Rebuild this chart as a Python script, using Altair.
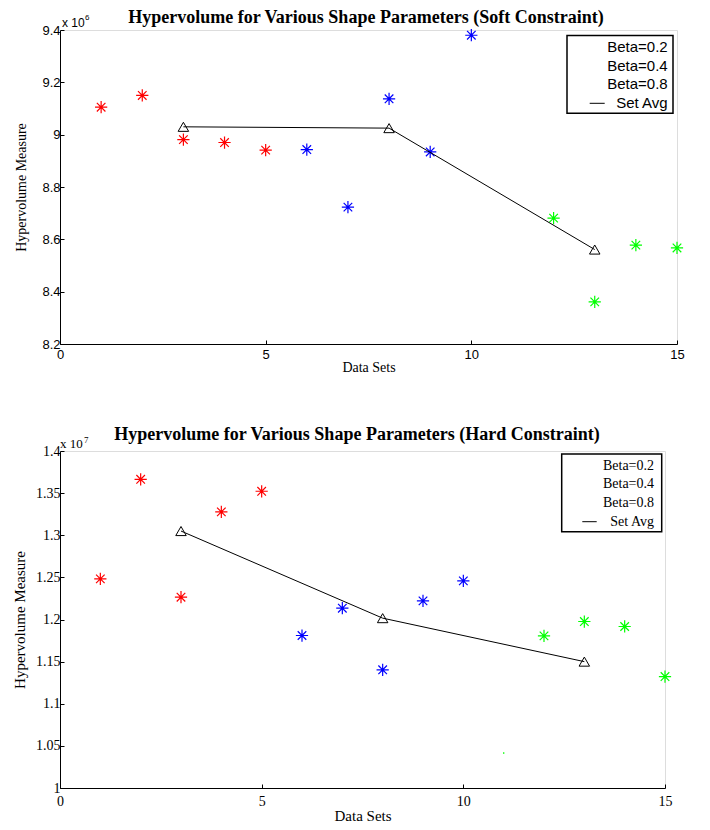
import altair as alt
import pandas as pd

# ---------------- data ----------------
soft_x = [1, 2, 3, 4, 5, 6, 7, 8, 9, 10, 12, 13, 14, 15]
soft_y = [9.105e6, 9.150e6, 8.981e6, 8.970e6, 8.941e6,
          8.943e6, 8.723e6, 9.137e6, 8.934e6, 9.380e6,
          8.681e6, 8.361e6, 8.578e6, 8.567e6]
soft_group = ["Beta=0.2"] * 5 + ["Beta=0.4"] * 5 + ["Beta=0.8"] * 4
soft_avg_x = [3, 8, 13]
soft_avg_y = [9.030e6, 9.025e6, 8.561e6]

hard_x = [1, 2, 3, 4, 5, 6, 7, 8, 9, 10, 11, 12, 13, 14, 15]
hard_y = [1.2482e7, 1.3664e7, 1.2265e7, 1.3277e7, 1.3522e7,
          1.1810e7, 1.2134e7, 1.1403e7, 1.2221e7, 1.2458e7,
          1.0415e7, 1.1806e7, 1.1976e7, 1.1917e7, 1.1323e7]
hard_group = ["Beta=0.2"] * 5 + ["Beta=0.4"] * 5 + ["Beta=0.8"] * 5
hard_dot_only = [11]          # point drawn only as a tiny dot in the original
hard_avg_x = [3, 8, 13]
hard_avg_y = [1.3050e7, 1.2016e7, 1.1500e7]

groups = ["Beta=0.2", "Beta=0.4", "Beta=0.8"]
group_colors = ["#ff0000", "#0000ff", "#00ff00"]
legend_labels = ["Beta=0.2", "Beta=0.4", "Beta=0.8", "Set Avg"]

x_ticks = [0, 5, 10, 15]
soft_y_ticks = [8.2e6, 8.4e6, 8.6e6, 8.8e6, 9.0e6, 9.2e6, 9.4e6]
hard_y_ticks = [1.0e7, 1.05e7, 1.1e7, 1.15e7, 1.2e7, 1.25e7, 1.3e7, 1.35e7, 1.4e7]

soft_title = "Hypervolume for Various Shape Parameters (Soft Constraint)"
hard_title = "Hypervolume for Various Shape Parameters (Hard Constraint)"

STAR = "M-1,0L1,0M0,-1L0,1M-0.7,-0.7L0.7,0.7M-0.7,0.7L0.7,-0.7"
SERIF = "Liberation Serif"
SANS = "Liberation Sans"


def panel(xs, ys, grp, ax, ay, yticks, ydomain, scale_div, exponent, title,
          w, h, label_font, label_size, title_size, st, dot_only=()):
    pts = pd.DataFrame({"x": xs, "y": ys, "g": grp})
    avg = pd.DataFrame({"x": ax, "y": ay})

    xenc = alt.X("x:Q", scale=alt.Scale(domain=[0, 15], nice=False, zero=False),
                 axis=alt.Axis(values=x_ticks, title="Data Sets", grid=False,
                               labelFont=label_font, labelFontSize=label_size,
                               titleFont=SERIF, titleFontSize=title_size,
                               titleFontWeight="normal", titleColor="black",
                               labelColor="black", domainColor="black",
                               tickColor="black", tickSize=alt.ExprRef("-4"),
                               labelPadding=st["xlp"], titlePadding=st["xtp"],
                               labelFlush=False))
    yenc = alt.Y("y:Q", scale=alt.Scale(domain=ydomain, nice=False, zero=False),
                 axis=alt.Axis(values=yticks, title="Hypervolume Measure", grid=False,
                               labelExpr=f"format(datum.value / {scale_div}, '~g')",
                               labelFont=label_font, labelFontSize=label_size,
                               titleFont=SERIF, titleFontSize=title_size,
                               titleFontWeight="normal", titleColor="black",
                               labelColor="black", domainColor="black",
                               tickColor="black", tickSize=alt.ExprRef("-4"),
                               labelPadding=4, titlePadding=st["ytp"], labelFlush=False))
    color = alt.Color("g:N", scale=alt.Scale(domain=groups, range=group_colors), legend=None)

    stars = alt.Chart(pts).transform_filter(
        alt.FieldOneOfPredicate(field="x", oneOf=[v for v in xs if v not in dot_only])
    ).mark_point(shape=STAR, filled=False, size=150, strokeWidth=1.2, opacity=1).encode(
        x=xenc, y=yenc, color=color)
    layers = [stars]
    if dot_only:
        dots = alt.Chart(pts).transform_filter(
            alt.FieldOneOfPredicate(field="x", oneOf=list(dot_only))
        ).mark_point(shape="square", filled=True, size=2, opacity=1).encode(
            x=xenc, y=yenc, color=color)
        layers.append(dots)
    line = alt.Chart(avg).mark_line(color="black", strokeWidth=1).encode(x=xenc, y=yenc)
    tri = alt.Chart(avg).mark_point(shape="triangle-up", filled=False, color="black",
                                    size=110, strokeWidth=1, opacity=1).encode(x=xenc, y=yenc)
    layers += [line, tri]

    one = pd.DataFrame({"k": [0]})
    # title as text
    layers.append(alt.Chart(pd.DataFrame({"t": [title]})).mark_text(
        font=SERIF, fontSize=st["tf"], fontWeight="bold", align="center", baseline="alphabetic",
        color="black").encode(x=alt.value(st["tx"]), y=alt.value(st["ty"]), text="t:N"))
    # exponent
    layers.append(alt.Chart(pd.DataFrame({"t": ["x 10"]})).mark_text(
        font=label_font, fontSize=st["ef"], align="left", baseline="alphabetic",
        color="black").encode(x=alt.value(st["ex"]), y=alt.value(st["ey"]), text="t:N"))
    layers.append(alt.Chart(pd.DataFrame({"t": [exponent]})).mark_text(
        font=label_font, fontSize=st["ef"] - 4, align="left", baseline="alphabetic",
        color="black").encode(x=alt.value(st["sx"]), y=alt.value(st["sy"]), text="t:N"))
    # legend box
    layers.append(alt.Chart(one).mark_rect(fill="white", stroke="black", strokeWidth=1.5).encode(
        x=alt.value(st["x1"]), x2=alt.value(st["x2"]),
        y=alt.value(st["y1"]), y2=alt.value(st["y2"])))
    for lab, yy in zip(legend_labels, st["rows"]):
        layers.append(alt.Chart(pd.DataFrame({"t": [lab]})).mark_text(
            font=label_font, fontSize=st["lf"], align="right", baseline="middle",
            color="black").encode(x=alt.value(st["tr"]), y=alt.value(yy), text="t:N"))
    layers.append(alt.Chart(one).mark_rule(color="black", strokeWidth=1).encode(
        x=alt.value(st["l1"]), x2=alt.value(st["l2"]), y=alt.value(st["rows"][3])))

    return alt.layer(*layers).properties(width=w, height=h)


top = panel(soft_x, soft_y, soft_group, soft_avg_x, soft_avg_y, soft_y_ticks,
            [8.2e6, 9.4e6], 1000000, "6", soft_title, 617, 314, SANS, 13, 14,
            dict(tf=18, tx=306, ty=-7, ex=2, ey=-3, sx=25, sy=-10, ef=12,
                 xlp=8, xtp=-1, ytp=13,
                 x1=507, x2=613, y1=5.6, y2=83.3, tr=607.7,
                 rows=[16.6, 35.6, 54.3, 73.3], l1=529.7, l2=544.7, lf=15))

bottom = panel(hard_x, hard_y, hard_group, hard_avg_x, hard_avg_y, hard_y_ticks,
               [1.0e7, 1.4e7], 10000000, "7", hard_title, 605, 337, SERIF, 14, 15,
               dict(tf=18, tx=297, ty=-11, ex=0, ey=-3, sx=24, sy=-8, ef=13,
                    xlp=10, xtp=0, ytp=8,
                    x1=501.7, x2=601.7, y1=3, y2=80.7, tr=594,
                    rows=[14.7, 33.3, 52.3, 70.7], l1=522.3, l2=536.7, lf=14),
               dot_only=hard_dot_only)

chart = alt.vconcat(top, bottom, spacing=50).properties(
    padding={"left": 4, "top": 0, "right": 0, "bottom": 0}
).configure_view(stroke=None).configure(background="white")

chart.save("out.html", embed_options={"renderer": "svg", "actions": False})
